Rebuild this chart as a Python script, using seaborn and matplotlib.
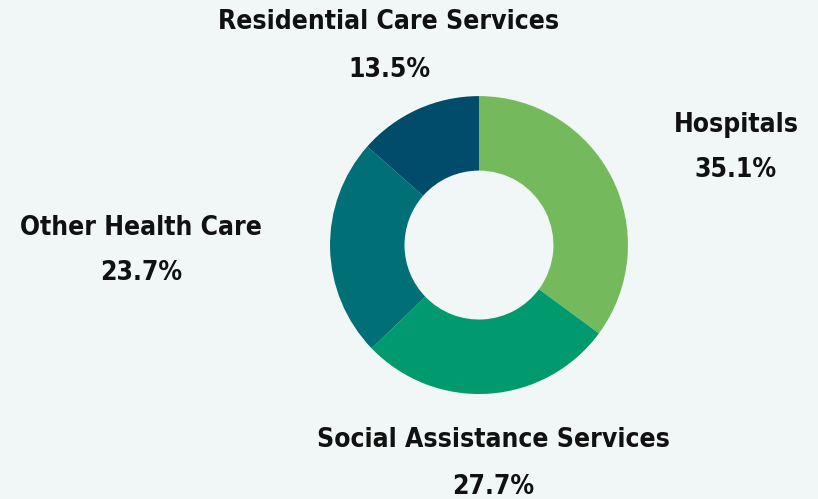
import matplotlib
matplotlib.use('Agg')
import matplotlib.pyplot as plt
import seaborn as sns

# Health care sector breakdown
categories = ["Hospitals", "Social Assistance Services", "Other Health Care", "Residential Care Services"]
shares = [35.1, 27.7, 23.7, 13.5]
colors = ["#74b95c", "#009a6e", "#006f76", "#004c6a"]

sns.set_theme(style="white")
plt.rcParams['font.family'] = ['DejaVu Sans']

bg = "#f1f6f6"
fig = plt.figure(figsize=(8.18, 4.99), dpi=100, facecolor=bg)
ax = fig.add_axes([0.4034, 0.2104, 0.3643, 0.597])
ax.set_facecolor(bg)

ax.pie(shares, colors=sns.color_palette(colors), startangle=90, counterclock=False,
       radius=1.0, wedgeprops=dict(width=0.5, linewidth=0))
ax.set_xlim(-1, 1)
ax.set_ylim(-1, 1)
ax.set_aspect('equal')
ax.axis('off')

# label anchor positions (in pie radius units)
label_pos = {
    "Hospitals": (1.725, 0.805, 0.503),
    "Social Assistance Services": (0.094, -1.309, -1.624),
    "Other Health Care": (-2.268, 0.114, -0.188),
    "Residential Care Services": (-0.604, 1.497, 1.174),
}
for name, val in zip(categories, shares):
    x, y1, y2 = label_pos[name]
    for y, s in ((y1, name), (y2, f"{val:.1f}%")):
        ax.text(x, y, s, ha='center', va='center', fontsize=19, fontweight='bold',
                fontstretch='condensed', color='#111111', clip_on=False)

fig.savefig("out.png", dpi=100, facecolor=bg)
